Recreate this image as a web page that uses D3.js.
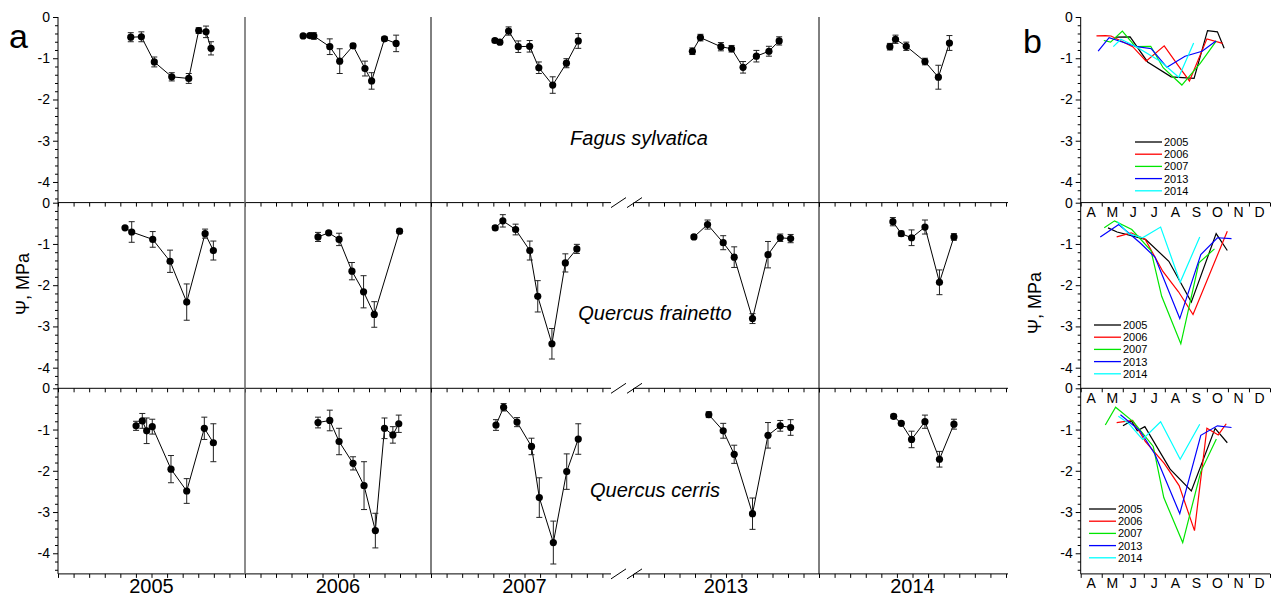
<!DOCTYPE html>
<html>
<head>
<meta charset="utf-8">
<script src="https://cdn.jsdelivr.net/npm/d3@7"></script>
<style>
  body { margin: 0; background: #fff; }
  text { font-family: Arial, "Liberation Sans", sans-serif; fill: #000; }
</style>
</head>
<body>
<div id="chart"></div>
<script>
// [month from Jan 1, water potential (MPa), error]
const years = ["2005", "2006", "2007", "2013", "2014"];
const species = ["Fagus sylvatica", "Quercus frainetto", "Quercus cerris"];
const yTicks = [0, -1, -2, -3, -4];
const monthLabels = ["A", "M", "J", "J", "A", "S", "O", "N", "D"];

const fagus2005 = [[4.67,-0.49,0.11],[5.35,-0.48,0.12],[6.18,-1.09,0.12],[7.30,-1.45,0.10],[8.39,-1.49,0.12],[9.03,-0.33,0.07],[9.50,-0.36,0.14],[9.82,-0.76,0.16]];
const fagus2006 = [[3.75,-0.46,0.04],[4.18,-0.45,0.04],[4.44,-0.46,0.08],[5.47,-0.72,0.19],[6.11,-1.07,0.30],[6.97,-0.70,0.06],[7.74,-1.25,0.18],[8.17,-1.55,0.20],[9.00,-0.53,0.05],[9.75,-0.64,0.20]];
const fagus2007 = [[4.10,-0.57,0.05],[4.42,-0.61,0.04],[4.98,-0.34,0.10],[5.60,-0.72,0.14],[6.33,-0.71,0.14],[6.92,-1.23,0.14],[7.81,-1.65,0.20],[8.69,-1.12,0.11],[9.45,-0.58,0.18]];
const fagus2013 = [[3.83,-0.83,0.08],[4.35,-0.50,0.08],[5.67,-0.72,0.10],[6.36,-0.77,0.08],[7.10,-1.22,0.14],[7.96,-0.95,0.14],[8.77,-0.83,0.12],[9.43,-0.58,0.10]];
const fagus2014 = [[4.55,-0.72,0.08],[4.91,-0.54,0.10],[5.60,-0.71,0.10],[6.80,-1.08,0.08],[7.66,-1.46,0.29],[8.37,-0.63,0.18]];

const frainetto2005 = [[4.30,-0.61,0.03],[4.73,-0.71,0.25],[6.08,-0.89,0.19],[7.19,-1.42,0.27],[8.26,-2.41,0.44],[9.44,-0.75,0.11],[9.97,-1.16,0.23]];
const frainetto2006 = [[4.71,-0.83,0.11],[5.40,-0.73,0.04],[6.07,-0.89,0.15],[6.90,-1.66,0.21],[7.65,-2.16,0.39],[8.34,-2.71,0.31],[9.97,-0.69,0.05]];
const frainetto2007 = [[4.12,-0.61,0.05],[4.61,-0.44,0.15],[5.43,-0.65,0.13],[6.34,-1.16,0.23],[6.85,-2.27,0.38],[7.76,-3.42,0.37],[8.62,-1.46,0.22],[9.36,-1.12,0.11]];
const frainetto2013 = [[3.93,-0.83,0.04],[4.81,-0.53,0.11],[5.82,-0.97,0.17],[6.53,-1.32,0.25],[7.71,-2.81,0.12],[8.71,-1.26,0.32],[9.50,-0.85,0.09],[10.17,-0.87,0.10]];
const frainetto2014 = [[4.74,-0.46,0.10],[5.28,-0.75,0.06],[5.94,-0.85,0.19],[6.80,-0.59,0.17],[7.73,-1.93,0.30],[8.66,-0.83,0.08]];

const cerris2005 = [[5.01,-0.91,0.11],[5.41,-0.79,0.18],[5.69,-1.03,0.31],[6.05,-0.93,0.18],[7.25,-1.96,0.33],[8.26,-2.49,0.30],[9.39,-0.97,0.27],[9.97,-1.32,0.46]];
const cerris2006 = [[4.71,-0.83,0.13],[5.47,-0.78,0.25],[6.07,-1.29,0.32],[6.97,-1.82,0.16],[7.68,-2.36,0.58],[8.41,-3.45,0.42],[9.00,-0.97,0.25],[9.54,-1.13,0.20],[9.92,-0.86,0.21]];
const cerris2007 = [[4.17,-0.89,0.13],[4.66,-0.46,0.09],[5.52,-0.82,0.11],[6.45,-1.41,0.20],[6.95,-2.65,0.48],[7.85,-3.74,0.52],[8.71,-2.02,0.43],[9.45,-1.23,0.37]];
const cerris2013 = [[4.89,-0.64,0.07],[5.82,-1.03,0.18],[6.53,-1.60,0.22],[7.71,-3.04,0.38],[8.71,-1.14,0.31],[9.50,-0.91,0.13],[10.17,-0.95,0.19]];
const cerris2014 = [[4.79,-0.68,0.05],[5.28,-0.85,0.04],[5.94,-1.24,0.20],[6.80,-0.81,0.16],[7.73,-1.72,0.19],[8.66,-0.87,0.12]];

const rows = [
  [fagus2005, fagus2006, fagus2007, fagus2013, fagus2014],
  [frainetto2005, frainetto2006, frainetto2007, frainetto2013, frainetto2014],
  [cerris2005, cerris2006, cerris2007, cerris2013, cerris2014]
];

const yearColors = ["#000000", "#ff0000", "#00e600", "#0000ff", "#00ffff"];

const W = 1274, H = 596;
const svg = d3.select("#chart").append("svg")
  .attr("width", W)
  .attr("height", H);

const rowTop = [17, 202.7, 388.3], rowH = 185.6;
const yScales = rowTop.map(t => d3.scaleLinear().domain([0, -4.5]).range([t, t + rowH]));
const sectionRange = [[58, 245], [245, 431], [431, 618], [633, 819], [819, 1006]];
const xScales = sectionRange.map(r => d3.scaleLinear().domain([0, 12]).range(r));
const xb = d3.scaleLinear().domain([3, 12]).range([1080.7, 1270]);
const minorTicks = d3.range(0, 45).filter(i => i % 5 !== 0).map(i => -i / 10).filter(v => (v * 10) % 2 === 0);

const bottomY = rowTop[2] + rowH;

function yAxis(g, y, x0) {
  g.append("g").attr("transform", `translate(${x0},0)`)
    .call(d3.axisLeft(y).tickValues(yTicks).tickSize(5).tickPadding(3).tickFormat(d => String(d)))
    .call(a => a.select(".domain").remove())
    .call(a => a.selectAll("text").attr("font-size", 14).attr("font-family", "Arial, 'Liberation Sans', sans-serif"));
  g.append("g").attr("transform", `translate(${x0},0)`)
    .call(d3.axisLeft(y).tickValues(minorTicks).tickSize(3).tickFormat(""))
    .call(a => a.select(".domain").remove());
}

// ---------- panel a ----------
const pa = svg.append("g");

rows.forEach((row, r) => {
  const y = yScales[r];
  const yb = rowTop[r] + rowH;
  yAxis(pa, y, 58);

  // bottom axes of each year section
  xScales.forEach((x, s) => {
    const ticks = s === 2 ? d3.range(0, 12) : d3.range(0, 13);
    pa.append("g").attr("transform", `translate(0,${yb})`)
      .call(d3.axisBottom(x).tickValues(ticks).tickSize(4).tickFormat(""))
      .call(a => a.select(".domain").remove());
  });
  pa.append("line").attr("x1", 58).attr("x2", 611).attr("y1", yb).attr("y2", yb).attr("stroke", "#000");
  pa.append("line").attr("x1", 634).attr("x2", 1008).attr("y1", yb).attr("y2", yb).attr("stroke", "#000");
  // axis break
  [[611, 626], [627, 642]].forEach(b => {
    pa.append("line").attr("x1", b[0]).attr("y1", yb + 5).attr("x2", b[1]).attr("y2", yb - 5)
      .attr("stroke", "#000").attr("stroke-width", 1);
  });

  // data
  row.forEach((pts, s) => {
    const x = xScales[s];
    const g = pa.append("g");
    g.append("path").datum(pts)
      .attr("fill", "none").attr("stroke", "#000").attr("stroke-width", 1)
      .attr("d", d3.line().x(d => x(d[0])).y(d => y(d[1])));
    const eb = g.selectAll(".eb").data(pts).enter().append("g").attr("stroke", "#222").attr("stroke-width", 1);
    eb.append("line").attr("x1", d => x(d[0])).attr("x2", d => x(d[0]))
      .attr("y1", d => y(d[1] + d[2])).attr("y2", d => y(d[1] - d[2]));
    eb.append("line").attr("x1", d => x(d[0]) - 3).attr("x2", d => x(d[0]) + 3)
      .attr("y1", d => y(d[1] + d[2])).attr("y2", d => y(d[1] + d[2]));
    eb.append("line").attr("x1", d => x(d[0]) - 3).attr("x2", d => x(d[0]) + 3)
      .attr("y1", d => y(d[1] - d[2])).attr("y2", d => y(d[1] - d[2]));
    g.selectAll("circle").data(pts).enter().append("circle")
      .attr("cx", d => x(d[0])).attr("cy", d => y(d[1])).attr("r", 3.6).attr("fill", "#000");
  });
});

pa.append("line").attr("x1", 58).attr("x2", 58).attr("y1", rowTop[0]).attr("y2", bottomY).attr("stroke", "#000");
[245, 431, 819].forEach(xv => {
  pa.append("line").attr("x1", xv).attr("x2", xv).attr("y1", rowTop[0]).attr("y2", bottomY)
    .attr("stroke", xv === 245 ? "#666" : "#000").attr("stroke-width", xv === 245 ? 1.5 : 1);
});

const speciesPos = [[639, 145], [655, 320], [655, 497]];
species.forEach((s, i) => {
  pa.append("text").attr("x", speciesPos[i][0]).attr("y", speciesPos[i][1])
    .attr("text-anchor", "middle").attr("font-size", 20).attr("font-style", "italic").text(s);
});

years.forEach((yr, s) => {
  pa.append("text").attr("x", xScales[s](6)).attr("y", 593)
    .attr("text-anchor", "middle").attr("font-size", 20).text(yr);
});

pa.append("text").attr("x", 9).attr("y", 48).attr("font-size", 34).text("a");
pa.append("text").attr("transform", "translate(29,284) rotate(-90)")
  .attr("text-anchor", "middle").attr("font-size", 18).text("Ψ, MPa");

// ---------- panel b ----------
const pb = svg.append("g");
const legendPos = [[1135, 142], [1094, 325], [1089, 509]];

rows.forEach((row, r) => {
  const y = yScales[r];
  const yb = rowTop[r] + rowH;
  yAxis(pb, y, xb(3));
  pb.append("g").attr("transform", `translate(0,${yb})`)
    .call(d3.axisBottom(xb).tickValues(d3.range(3, 13)).tickSize(4).tickFormat(""))
    .call(a => a.select(".domain").attr("d", `M${xb(3)},0H${xb(12)}`));
  monthLabels.forEach((m, i) => {
    pb.append("text").attr("x", xb(3.5 + i)).attr("y", yb + 14.5)
      .attr("text-anchor", "middle").attr("font-size", 14).text(m);
  });

  row.forEach((pts, s) => {
    pb.append("path").datum(pts)
      .attr("fill", "none").attr("stroke", yearColors[s]).attr("stroke-width", 1.2)
      .attr("d", d3.line().x(d => xb(d[0])).y(d => y(d[1])));
  });

  const lg = pb.append("g").attr("transform", `translate(${legendPos[r][0]},${legendPos[r][1]})`);
  years.forEach((yr, s) => {
    lg.append("line").attr("x1", 0).attr("x2", 27).attr("y1", s * 12.2).attr("y2", s * 12.2)
      .attr("stroke", yearColors[s]).attr("stroke-width", 1.3);
    lg.append("text").attr("x", 29).attr("y", s * 12.2 + 4).attr("font-size", 11).text(yr);
  });
});

pb.append("line").attr("x1", xb(3)).attr("x2", xb(3)).attr("y1", rowTop[0]).attr("y2", bottomY).attr("stroke", "#000");
pb.append("text").attr("x", 1023).attr("y", 53).attr("font-size", 34).text("b");
pb.append("text").attr("transform", "translate(1041,303) rotate(-90)")
  .attr("text-anchor", "middle").attr("font-size", 18).text("Ψ, MPa");
</script>
</body>
</html>
